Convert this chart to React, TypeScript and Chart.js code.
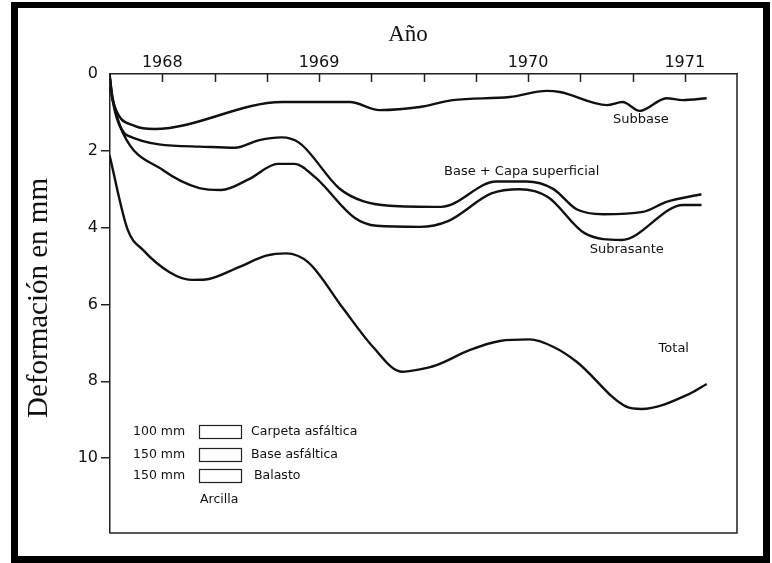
import React, { useEffect, useRef } from "react";
import { Chart, registerables } from "chart.js";

Chart.register(...registerables);

// X axis: evenly spaced tick marks (index), with year labels on some of them
const xTickValues = [0, 1, 2, 3, 4, 5, 6, 7, 8, 9, 10];
const yearLabels: Record<number, string> = { 0: "1968", 3: "1969", 7: "1970", 10: "1971" };
const yTickValues = [0, 2, 4, 6, 8, 10];

// Series (x in tick units, y = deformation in mm)
const subbaseX = [-1.01, -0.95, -0.53, -0.15, 2.3, 3.59, 4.16, 4.93, 5.56, 6.65, 7.36, 7.61, 8.51, 8.81, 9.14, 9.65, 9.96, 10.42];
const subbaseY = [0, 0.68, 1.35, 1.43, 0.73, 0.73, 0.94, 0.86, 0.68, 0.6, 0.44, 0.47, 0.81, 0.73, 0.96, 0.63, 0.68, 0.63];

const baseX = [-1.01, -0.95, -0.68, 0.71, 1.39, 1.86, 2.28, 2.63, 3.39, 3.84, 4.35, 5.34, 6.39, 6.97, 7.48, 7.93, 8.44, 9.2, 9.65, 10.32];
const baseY = [0, 0.62, 1.59, 1.89, 1.92, 1.72, 1.65, 1.8, 2.98, 3.31, 3.43, 3.46, 2.8, 2.8, 2.99, 3.52, 3.65, 3.59, 3.33, 3.13];

const subrasanteX = [-1.01, -0.96, -0.75, 0.01, 0.71, 1.13, 1.67, 2.21, 2.53, 2.92, 3.68, 4.1, 4.93, 5.47, 6.3, 6.84, 7.38, 8.09, 8.79, 9.97, 10.32];
const subrasanteY = [0, 0.6, 1.54, 2.5, 2.97, 3.02, 2.73, 2.34, 2.34, 2.68, 3.74, 3.95, 3.98, 3.83, 3.11, 3.0, 3.2, 4.15, 4.32, 3.41, 3.41];

const totalX = [-1.01, -0.66, -0.37, 0.14, 0.56, 0.83, 1.48, 1.99, 2.37, 2.8, 3.46, 4.03, 4.58, 4.93, 5.25, 5.88, 6.46, 7.03, 7.48, 7.93, 8.88, 9.17, 10.1, 10.42];
const totalY = [2.11, 4.06, 4.58, 5.16, 5.36, 5.35, 5.02, 4.73, 4.67, 4.91, 6.1, 7.1, 7.75, 7.69, 7.58, 7.19, 6.95, 6.91, 7.1, 7.49, 8.66, 8.72, 8.32, 8.07];

// Curve labels (text, x, y in data units)
const curveLabels: [string, number, number][] = [
  ["Subbase", 9.16, 1.2],
  ["Base + Capa superficial", 6.88, 2.55],
  ["Subrasante", 8.89, 4.56],
  ["Total", 9.79, 7.14],
];

// Pavement structure inset
const layerThickness = ["100 mm", "150 mm", "150 mm"];
const layerNames = ["Carpeta asfáltica", "Base asfáltica", "Balasto"];
const subgradeName = "Arcilla";

const SANS = '"DejaVu Sans", "Liberation Sans", Arial, sans-serif';
const SERIF = '"Liberation Serif", "Times New Roman", serif';

const toPoints = (xs: number[], ys: number[]) => xs.map((x, i) => ({ x, y: ys[i] }));

const decorPlugin = {
  id: "decor",
  beforeDraw(chart: any) {
    const { ctx, width, height } = chart;
    ctx.save();
    ctx.fillStyle = "#ffffff";
    ctx.fillRect(0, 0, width, height);
    ctx.restore();
  },
  afterDraw(chart: any) {
    const { ctx } = chart;
    const { left, right, top, bottom } = chart.chartArea;
    const xs = chart.scales.x;
    const ys = chart.scales.y;
    ctx.save();

    // right + bottom frame of plot
    ctx.strokeStyle = "#222";
    ctx.lineWidth = 1.5;
    ctx.beginPath();
    ctx.moveTo(right, top);
    ctx.lineTo(right, bottom);
    ctx.lineTo(left, bottom);
    ctx.stroke();

    // inward tick marks on the top axis
    ctx.beginPath();
    for (const v of xTickValues) {
      const px = Math.round(xs.getPixelForValue(v)) + 0.5;
      ctx.moveTo(px, top);
      ctx.lineTo(px, top + 8);
    }
    ctx.stroke();

    // Titles
    ctx.fillStyle = "#111";
    ctx.textAlign = "center";
    ctx.textBaseline = "middle";
    ctx.font = `23px ${SERIF}`;
    ctx.fillText("Año", 408, 35);

    ctx.save();
    ctx.translate(39, 298);
    ctx.rotate(-Math.PI / 2);
    ctx.font = `29px ${SERIF}`;
    ctx.fillText("Deformación en mm", 0, 0);
    ctx.restore();

    // Curve labels
    ctx.font = `13px ${SANS}`;
    for (const [t, x, y] of curveLabels) {
      ctx.fillText(t, xs.getPixelForValue(x), ys.getPixelForValue(y));
    }

    // Inset
    ctx.font = `12.5px ${SANS}`;
    ctx.textAlign = "left";
    const rowY = [432, 455, 476];
    layerThickness.forEach((t, i) => {
      ctx.fillText(t, 133, rowY[i]);
      ctx.strokeStyle = "#222";
      ctx.lineWidth = 1.2;
      ctx.strokeRect(199.5, rowY[i] - 6.5, 42, 13);
      ctx.fillText(layerNames[i], i === 2 ? 254 : 251, rowY[i]);
    });
    ctx.fillText(subgradeName, 200, 500);

    // Outer black frame
    ctx.fillStyle = "#000";
    ctx.fillRect(11, 2, 759, 6);
    ctx.fillRect(11, 2, 7, 561);
    ctx.fillRect(763, 2, 7, 561);
    ctx.fillRect(11, 556, 759, 7);

    ctx.restore();
  },
};

export default function App() {
  const canvasRef = useRef<HTMLCanvasElement | null>(null);

  useEffect(() => {
    if (!canvasRef.current) return;
    const lineStyle = {
      borderColor: "#111",
      borderWidth: 2.4,
      pointRadius: 0,
      fill: false,
      cubicInterpolationMode: "monotone" as const,
    };
    const chart = new Chart(canvasRef.current, {
      type: "line",
      data: {
        datasets: [
          { label: "Subbase", data: toPoints(subbaseX, subbaseY), ...lineStyle },
          { label: "Base + Capa superficial", data: toPoints(baseX, baseY), ...lineStyle },
          { label: "Subrasante", data: toPoints(subrasanteX, subrasanteY), ...lineStyle },
          { label: "Total", data: toPoints(totalX, totalY), ...lineStyle },
        ],
      },
      options: {
        responsive: false,
        animation: false,
        devicePixelRatio: 1,
        layout: { padding: { left: 0, top: 0, right: 35, bottom: 30 } },
        plugins: { legend: { display: false }, tooltip: { enabled: false } },
        scales: {
          x: {
            type: "linear",
            position: "top",
            min: -1,
            max: 11,
            afterFit: (s: any) => {
              s.height = 74;
            },
            afterBuildTicks: (s: any) => {
              s.ticks = xTickValues.map((v) => ({ value: v }));
            },
            ticks: {
              autoSkip: false,
              maxRotation: 0,
              padding: 2,
              color: "#111",
              font: { family: SANS, size: 16 },
              callback: (v: any) => yearLabels[v as number] ?? "",
            },
            grid: { drawOnChartArea: false, drawTicks: false },
            border: { display: true, color: "#222", width: 1.5 },
          },
          y: {
            type: "linear",
            reverse: true,
            min: 0,
            max: 11.95,
            afterFit: (s: any) => {
              s.width = 110;
            },
            afterBuildTicks: (s: any) => {
              s.ticks = yTickValues.map((v) => ({ value: v }));
            },
            ticks: {
              padding: 3,
              color: "#111",
              font: { family: SANS, size: 16 },
            },
            grid: {
              drawOnChartArea: false,
              drawTicks: true,
              tickLength: 9,
              lineWidth: 1.5,
              color: (c: any) => (c.tick && c.tick.value === 0 ? "rgba(0,0,0,0)" : "#222"),
            },
            border: { display: true, color: "#222", width: 1.5 },
          },
        },
      },
      plugins: [decorPlugin],
    });
    return () => chart.destroy();
  }, []);

  return (
    <div style={{ position: "fixed", left: 0, top: 0, width: 772, height: 563, background: "#fff" }}>
      <canvas ref={canvasRef} width={772} height={563} style={{ display: "block", width: 772, height: 563 }} />
    </div>
  );
}
